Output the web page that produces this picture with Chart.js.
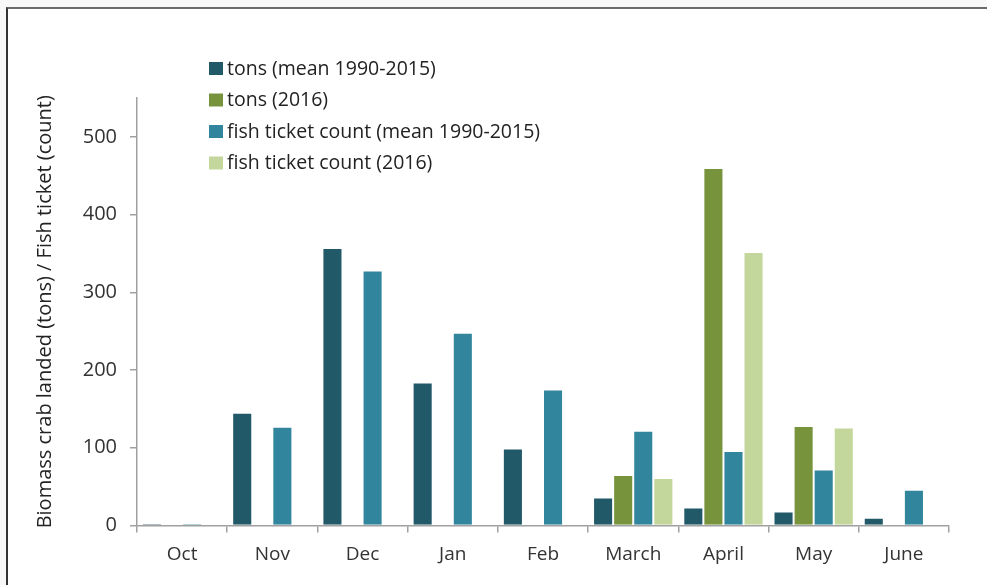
<!DOCTYPE html>
<html>
<head>
<meta charset="utf-8">
<script src="https://cdn.jsdelivr.net/npm/chart.js@4.4.0/dist/chart.umd.min.js"></script>
<style>
  html, body { margin: 0; padding: 0; background: #f8f8f8; }
  body { width: 987px; height: 585px; position: relative; overflow: hidden; }
  .frame {
    position: absolute; left: 6px; top: 7px; right: 0; bottom: 0;
    background: #fff; border-top: 2px solid #6a6a6a; border-left: 2px solid #333;
  }
  #chart { position: absolute; left: 0; top: 0; }
</style>
</head>
<body>
<div class="frame"></div>
<canvas id="chart" width="987" height="585"></canvas>
<script>
// months of the season
const months = ['Oct', 'Nov', 'Dec', 'Jan', 'Feb', 'March', 'April', 'May', 'June'];

// values
const tonsMean = [2, 145, 357, 184, 99, 36, 23, 18, 10];
const tons2016 = [null, null, null, null, null, 65, 460, 128, null];
const ticketsMean = [2, 127, 328, 248, 175, 122, 96, 72, 46];
const tickets2016 = [null, null, null, null, null, 61, 352, 126, null];

const yTicks = [0, 100, 200, 300, 400, 500];

const seriesNames = [
  'tons (mean 1990-2015)',
  'tons (2016)',
  'fish ticket count (mean 1990-2015)',
  'fish ticket count (2016)'
];
const seriesColors = ['#215968', '#77933c', '#31859c', '#c3d69b'];

const fontFamily = '"Open Sans", Lato, sans-serif';

// legend drawn inside the plot, top left, one row per series
const insideLegend = {
  id: 'insideLegend',
  afterDraw(chart) {
    const ctx = chart.ctx;
    ctx.save();
    ctx.font = '19.5px ' + fontFamily;
    ctx.textBaseline = 'middle';
    chart.data.datasets.forEach((ds, i) => {
      const y = 69 + i * 31.5;
      ctx.fillStyle = ds.backgroundColor;
      ctx.fillRect(209, y - 7, 14, 13);
      ctx.fillStyle = '#222';
      ctx.fillText(ds.label, 227, y);
    });
    ctx.restore();
  }
};

const datasets = [tonsMean, tons2016, ticketsMean, tickets2016].map((d, i) => ({
  label: seriesNames[i],
  data: d,
  backgroundColor: seriesColors[i],
  borderColor: 'rgba(255,255,255,0.6)',
  borderWidth: 1,
  categoryPercentage: 0.89,
  barPercentage: 1.0
}));

new Chart(document.getElementById('chart'), {
  type: 'bar',
  data: { labels: months, datasets },
  options: {
    responsive: false,
    animation: false,
    layout: { padding: { left: 0, right: 38, top: 98, bottom: 0 } },
    plugins: {
      legend: { display: false },
      tooltip: { enabled: false }
    },
    scales: {
      x: {
        grid: {
          display: true, drawOnChartArea: false, drawTicks: true,
          tickLength: 7, color: '#a0a0a0', lineWidth: 1.5, offset: true
        },
        border: { color: '#a0a0a0', width: 1.5 },
        ticks: { color: '#333', font: { family: fontFamily, size: 19 }, padding: 11, maxRotation: 0 },
        afterFit(scale) { scale.height = 59.5; }
      },
      y: {
        min: 0,
        max: 550,
        afterBuildTicks(scale) { scale.ticks = yTicks.map(v => ({ value: v })); },
        grid: {
          display: true, drawOnChartArea: false, drawTicks: true,
          tickLength: 7, color: '#a0a0a0', lineWidth: 1.5
        },
        border: { color: '#a0a0a0', width: 1.5 },
        ticks: { color: '#333', font: { family: fontFamily, size: 20 }, padding: 13 },
        title: {
          display: true,
          text: 'Biomass crab landed (tons) / Fish ticket (count)',
          color: '#222',
          font: { family: fontFamily, size: 20 },
          padding: { top: 33, bottom: 0 }
        },
        afterFit(scale) { scale.width = 137; }
      }
    }
  },
  plugins: [insideLegend]
});
</script>
</body>
</html>
